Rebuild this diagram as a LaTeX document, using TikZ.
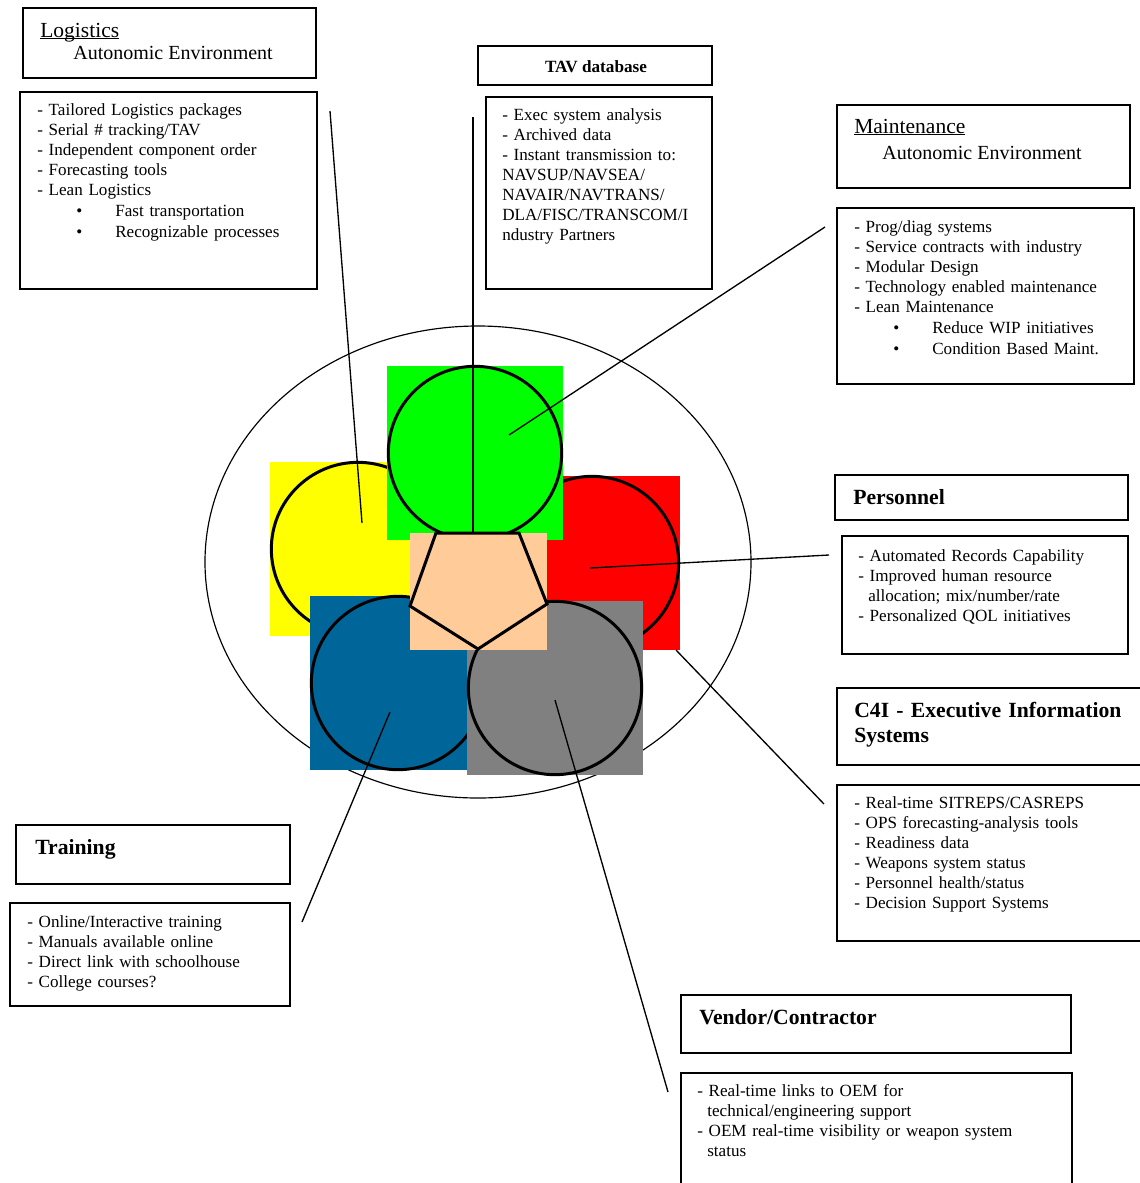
\documentclass[tikz,border=0pt]{standalone}
\usepackage{fontspec}
\setmainfont{Liberation Serif}
\usetikzlibrary{fit}
\definecolor{logiyellow}{RGB}{255,255,0}
\definecolor{tavgreen}{RGB}{0,255,0}
\definecolor{persred}{RGB}{255,0,0}
\definecolor{trnblue}{RGB}{0,102,153}
\definecolor{vendgray}{RGB}{128,128,128}
\definecolor{corepeach}{RGB}{255,204,153}
\newcommand{\bul}[1]{\makebox[46.8pt][l]{\hspace{23.4pt}\textbullet}#1}
\newcommand{\uline}[1]{\setbox0\hbox{#1}\rlap{\rule[-1.4pt]{\wd0}{0.7pt}}\box0}

\begin{document}
\begin{tikzpicture}[x=0.6pt,y=-0.6pt,
  box/.style={draw, line width=0.9pt, inner sep=0pt},
  sq/.style={minimum width=105.6pt, minimum height=104.4pt, inner sep=0pt},
  ring/.style={circle, draw, line width=1.8pt, minimum size=104pt, inner sep=0pt},
  link/.style={line width=0.8pt},
  listtext/.style={anchor=base west, inner sep=0pt, text width=200pt, align=left, font=\fontsize{10.25}{12}\selectfont},
  boldhead/.style={anchor=base west, inner sep=0pt, text width=200pt, align=left, font=\fontsize{13}{15}\selectfont\bfseries},
  ulhead/.style={anchor=base west, inner sep=0pt, font=\fontsize{12.9}{13}\selectfont},
  subhead/.style={anchor=base west, inner sep=0pt, font=\fontsize{12}{13}\selectfont}]
\useasboundingbox (0,0) rectangle (1140,1183);
\fill[white] (0,0) rectangle (1140,1183);

\draw[line width=0.7pt] (478,562) ellipse [x radius=273, y radius=236];

\foreach \nm/\px/\py/\cl in {logi/358/549/logiyellow, pers/592/563/persred, tav/475/453/tavgreen, trn/398/683/trnblue, vend/555/688/vendgray}{
 \node[sq, fill=\cl] (sq-\nm) at (\px,\py) {};
 \node[ring] (ring-\nm) at (\px,\py) {};
}
\node[inner sep=0pt, fill=corepeach, fit={(410,533) (547,650)}] (core) {};
\coordinate (p1) at (436,533);
\coordinate (p2) at (519,533);
\coordinate (p3) at (547,604);
\coordinate (p4) at (478,649);
\coordinate (p5) at (410,606);
\draw[line width=1.8pt, line join=miter] (p1) -- (p2) -- (p3) -- (p4) -- (p5) -- cycle;

% Logistics
\node[box, fit={(23,8) (316,78)}] (logi-head) {};
\node[ulhead] (logi-t1) at (40,37) {\uline{Logistics}};
\node[subhead] (logi-t2) at (73,59) {Autonomic Environment};
\node[box, fit={(20,92) (317,289)}] (logi-list) {};
\node[listtext] (logi-txt) at (37,115) {- Tailored Logistics packages\\
- Serial \# tracking/TAV\\
- Independent component order\\
- Forecasting tools\\
- Lean Logistics\\[0.6pt]
\bul{Fast transportation}\\[0.6pt]
\bul{Recognizable processes}};

% TAV
\node[box, fit={(478,46) (712,85)}] (tav-head) {};
\node[anchor=base, inner sep=0pt, font=\fontsize{10.3}{12}\selectfont\bfseries] (tav-t) at (596,72) {TAV database};
\node[box, fit={(486,97) (712,289)}] (tav-list) {};
\node[listtext] (tav-txt) at (502,120) {- Exec system analysis\\
- Archived data\\
- Instant transmission to:\\
NAVSUP/NAVSEA/\\
NAVAIR/NAVTRANS/\\
DLA/FISC/TRANSCOM/I\\
ndustry Partners};

% Maintenance
\node[box, fit={(837,105) (1130,188)}] (mnt-head) {};
\node[ulhead] (mnt-t1) at (854,133) {\uline{Maintenance}};
\node[subhead] (mnt-t2) at (882,159) {Autonomic Environment};
\node[box, fit={(837,208) (1134,384)}] (mnt-list) {};
\node[listtext] (mnt-txt) at (854,232) {- Prog/diag systems\\
- Service contracts with industry\\
- Modular Design\\
- Technology enabled maintenance\\
- Lean Maintenance\\[0.6pt]
\bul{Reduce WIP initiatives}\\[0.6pt]
\bul{Condition Based Maint.}};

% Personnel
\node[box, fit={(835,475) (1128,520)}] (pers-head) {};
\node[boldhead] (pers-t) at (853,504) {Personnel};
\node[box, fit={(842,536) (1128,654)}] (pers-list) {};
\node[listtext] (pers-txt) at (858,561) {- Automated Records Capability\\
- Improved human resource\\
\hspace*{6pt}allocation; mix/number/rate\\
- Personalized QOL initiatives};

% C4I
\node[box, fit={(837,688) (1150,765)}] (c4i-head) {};
\node[boldhead] (c4i-t) at (854,717) {C4I - Executive Information\\Systems};
\node[box, fit={(837,785) (1150,941)}] (c4i-list) {};
\node[listtext] (c4i-txt) at (854,808) {- Real-time SITREPS/CASREPS\\
- OPS forecasting-analysis tools\\
- Readiness data\\
- Weapons system status\\
- Personnel health/status\\
- Decision Support Systems};

% Training
\node[box, fit={(16,825) (290,884)}] (trn-head) {};
\node[boldhead] (trn-t) at (35,854) {Training};
\node[box, fit={(10,903) (290,1006)}] (trn-list) {};
\node[listtext] (trn-txt) at (27,927) {- Online/Interactive training\\
- Manuals available online\\
- Direct link with schoolhouse\\
- College courses?};

% Vendor
\node[box, fit={(681,995) (1071,1053)}] (vend-head) {};
\node[boldhead] (vend-t) at (699,1024) {Vendor/Contractor};
\node[box, fit={(681,1073) (1072,1200)}] (vend-list) {};
\node[listtext] (vend-txt) at (697,1096) {- Real-time links to OEM for\\
\hspace*{6pt}technical/engineering support\\
- OEM real-time visibility or weapon system\\
\hspace*{6pt}status};

% connectors
\coordinate (logi-a) at (330,111);
\coordinate (logi-b) at (362,523);
\coordinate (tav-a) at (473,117);
\coordinate (tav-b) at (473,533);
\coordinate (mnt-a) at (825,227);
\coordinate (mnt-b) at (509,435);
\coordinate (pers-a) at (829,555);
\coordinate (pers-b) at (590,568);
\coordinate (c4i-a) at (824,804);
\coordinate (c4i-b) at (676,650);
\coordinate (trn-a) at (302,922);
\coordinate (trn-b) at (390,712);
\coordinate (vend-a) at (668,1092);
\coordinate (vend-b) at (555,700);
\foreach \nm in {logi, tav, mnt, pers, c4i, trn, vend}
 \draw[link] (\nm-a) -- (\nm-b);
\end{tikzpicture}
\end{document}
